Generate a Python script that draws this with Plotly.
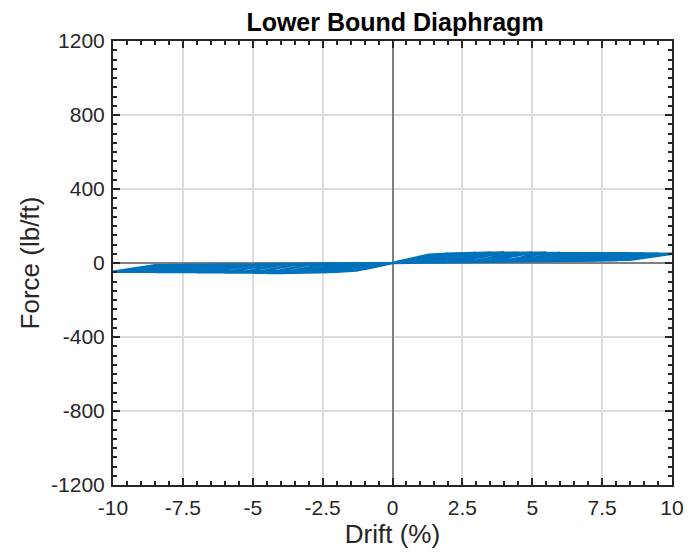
import plotly.graph_objects as go

# Hysteresis path vertices (drift %, force lb/ft), one line per cycle
drift = [0, 0.5, 0.2, 0, -0.5, -0.2, 0,
         1.0, 0.4, 0, -1.0, -0.4, 0,
         1.3, 1.5, 0.5, 0, -1.3, -1.5, -0.5, 0,
         1.3, 2.0, 0.6, 0, -1.3, -2.0, -0.6, 0,
         1.3, 2.5, 1.0, 0, -1.3, -2.5, -1.0, 0,
         1.3, 3.0, 1.5, 0, -1.3, -3.0, -1.5, 0,
         1.3, 2.0, 3.5, 2.0, 0, -1.3, -2.0, -3.5, -2.0, 0,
         1.3, 2.2, 4.0, 2.5, 0, -1.3, -2.2, -4.0, -2.5, 0,
         1.3, 2.4, 4.5, 3.0, 0, -1.3, -2.4, -4.5, -3.0, 0,
         1.3, 2.6, 5.0, 3.5, 0, -1.3, -2.6, -5.0, -3.5, 0,
         1.3, 2.8, 5.5, 4.0, 0, -1.3, -2.8, -5.5, -4.0, 0,
         1.3, 3.0, 6.0, 4.5, 0, -1.3, -3.0, -6.0, -4.5, 0,
         1.3, 3.2, 6.5, 5.0, 0, -1.3, -3.2, -6.5, -5.0, 0,
         1.3, 3.5, 7.0, 5.5, 0, -1.3, -3.5, -7.0, -5.5, 0,
         1.3, 3.7, 7.5, 6.0, 0, -1.3, -3.7, -7.5, -6.0, 0,
         1.3, 4.0, 8.0, 6.5, 0, -1.3, -4.0, -8.0, -6.5, 0,
         1.3, 4.2, 8.5, 7.0, 0, -1.3, -4.2, -8.5, -7.0, 0,
         1.3, 4.5, 9.0, 7.5, 0, -1.3, -4.5, -9.0, -7.5, 0,
         1.3, 4.7, 9.5, 8.0, 0, -1.3, -4.7, -9.5, -8.0, 0,
         1.3, 5.0, 10.0, 8.5, 0, -1.3, -5.0, -10.0, -8.5, 0]
force = [0, 17, 3, 0, -16, -3, 0,
         34, 5, 0, -32, -5, 0,
         44, 46, 8, 0, -40, -43, -7, 0,
         44, 50, 10, 0, -40, -47, -8, 0,
         45, 52, 11, 0, -41, -49, -9, 0,
         45, 54, 12, 0, -41, -51, -9, 0,
         44, 50, 55, 12, 0, -41, -47, -53, -10, 0,
         44, 51, 57, 13, 0, -40, -48, -54, -10, 0,
         43, 51, 56, 13, 0, -40, -48, -54, -10, 0,
         43, 52, 56, 13, 0, -40, -48, -53, -10, 0,
         42, 51, 55, 13, 0, -39, -48, -52, -10, 0,
         42, 51, 54, 13, 0, -39, -48, -51, -10, 0,
         42, 51, 53, 13, 0, -38, -47, -50, -10, 0,
         41, 51, 52, 13, 0, -38, -47, -50, -10, 0,
         41, 50, 51, 13, 0, -38, -47, -49, -10, 0,
         41, 50, 50, 13, 0, -37, -46, -48, -10, 0,
         40, 50, 50, 14, 0, -37, -46, -48, -10, 0,
         40, 49, 50, 14, 0, -36, -45, -47, -10, 0,
         40, 49, 50, 15, 0, -36, -45, -47, -11, 0,
         39, 48, 50, 18, 0, -35, -45, -47, -12, 0]

x_ticks = [-10, -7.5, -5, -2.5, 0, 2.5, 5, 7.5, 10]
x_labels = ["-10", "-7.5", "-5", "-2.5", "0", "2.5", "5", "7.5", "10"]
y_ticks = [-1200, -800, -400, 0, 400, 800, 1200]
y_labels = ["-1200", "-800", "-400", "0", "400", "800", "1200"]

fig = go.Figure()
fig.add_trace(go.Scatter(x=drift, y=force, mode="lines",
                         line=dict(color="#0072BD", width=2.5), showlegend=False))

font = "Liberation Sans, Arial, sans-serif"
ink = "#262626"
axis_common = dict(
    showline=True, linecolor=ink, linewidth=2, mirror="allticks",
    ticks="inside", ticklen=7, tickwidth=2, tickcolor=ink,
    showgrid=True, gridcolor="#DCDCDC", gridwidth=2,
    zeroline=True, zerolinecolor="#808080", zerolinewidth=2,
    tickfont=dict(family=font, size=21, color=ink),
    ticklabeloverflow="allow",
    automargin=False,
)

fig.update_xaxes(**axis_common, range=[-10, 10], tickvals=x_ticks, ticktext=x_labels,
                 ticklabelstandoff=3,
                 minor=dict(dtick=0.5, ticks="inside", ticklen=4, tickwidth=2,
                            tickcolor=ink, showgrid=False),
                 title=dict(text="Drift (%)", font=dict(family=font, size=26, color=ink),
                            standoff=3))
fig.update_yaxes(**axis_common, range=[-1200, 1200], tickvals=y_ticks, ticktext=y_labels,
                 ticklabelstandoff=2,
                 minor=dict(dtick=50, ticks="inside", ticklen=4, tickwidth=2,
                            tickcolor=ink, showgrid=False),
                 title=dict(text="Force (lb/ft)", font=dict(family=font, size=26, color=ink),
                            standoff=4))

# The page puts the figure 8 px in from the window's top-left corner;
# the right margin leaves room for the last x tick label inside the visible area.
fig.update_layout(
    width=685, height=545,
    margin=dict(l=105, r=21, t=33, b=68),
    paper_bgcolor="white", plot_bgcolor="white",
    title=dict(text="<b>Lower Bound Diaphragm</b>", x=387 / 685, xanchor="center",
               y=0.974, yanchor="middle",
               font=dict(family=font, size=25, color="black")),
)

fig.write_html("out.html")
